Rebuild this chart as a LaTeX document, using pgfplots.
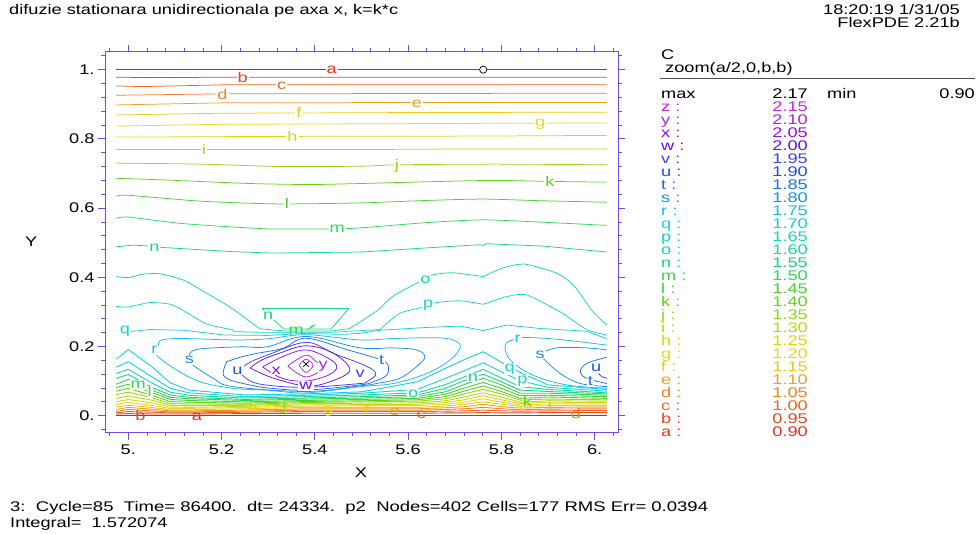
\documentclass[border=0pt]{standalone}
\usepackage{fontspec}
\setmainfont[FakeStretch=1.3]{Liberation Sans}
\usepackage{pgfplots}
\usepackage{pgfplotstable}
\pgfplotsset{compat=1.18}
\definecolor{lvla}{HTML}{E8321E}
\definecolor{lvlb}{HTML}{EA4420}
\definecolor{lvlc}{HTML}{EE6420}
\definecolor{lvld}{HTML}{F08020}
\definecolor{lvle}{HTML}{F0A020}
\definecolor{lvlf}{HTML}{EEC814}
\definecolor{lvlg}{HTML}{E8D818}
\definecolor{lvlh}{HTML}{D4D810}
\definecolor{lvli}{HTML}{B8D810}
\definecolor{lvlj}{HTML}{90D814}
\definecolor{lvlk}{HTML}{64D014}
\definecolor{lvll}{HTML}{44D430}
\definecolor{lvlm}{HTML}{30D850}
\definecolor{lvln}{HTML}{14D880}
\definecolor{lvlo}{HTML}{14D8A4}
\definecolor{lvlp}{HTML}{14D8C4}
\definecolor{lvlq}{HTML}{14D0E0}
\definecolor{lvlr}{HTML}{14BCF0}
\definecolor{lvls}{HTML}{1490F0}
\definecolor{lvlt}{HTML}{1870F0}
\definecolor{lvlu}{HTML}{2050E8}
\definecolor{lvlv}{HTML}{4040E8}
\definecolor{lvlw}{HTML}{6010E8}
\definecolor{lvlx}{HTML}{9010E8}
\definecolor{lvly}{HTML}{B020E8}
\definecolor{lvlz}{HTML}{D020E8}
\definecolor{frame}{HTML}{7048E8}
\definecolor{bound}{HTML}{8A4434}
\pgfplotstableread{
X q p o n m l k j i h g f e d c b
4.974 .163 .140 .122 .108 .091 .081 .071 .061 .050 .040 .032 .025 .018 .012 .008 .005
5.0 .191 .156 .134 .119 .105 .091 .079 .068 .057 .047 .038 .030 .024 .018 .012 .006
5.05 .142 .113 .095 .082 .074 .067 .059 .052 .045 .037 .030 .024 .019 .014 .010 .005
5.09 .095 .079 .068 .060 .053 .047 .041 .035 .030 .025 .021 .017 .014 .011 .008 .005
5.13 .074 .066 .059 .053 .049 .044 .039 .034 .029 .024 .021 .017 .014 .011 .008 .005
5.25 .060 .055 .051 .047 .044 .040 .036 .033 .030 .027 .024 .020 .016 .013 .010 .006
5.38 .063 .059 .055 .051 .048 .044 .041 .038 .035 .031 .028 .024 .020 .016 .012 .007
5.5 .069 .065 .060 .055 .051 .047 .043 .040 .036 .032 .029 .024 .020 .016 .012 .007
5.62 .098 .076 .066 .060 .055 .050 .046 .042 .037 .033 .029 .024 .020 .016 .012 .007
5.68 .137 .108 .090 .079 .069 .062 .055 .049 .043 .038 .033 .028 .023 .018 .013 .008
5.72 .162 .130 .112 .101 .090 .080 .071 .063 .054 .046 .039 .033 .026 .020 .014 .008
5.761 .185 .153 .134 .120 .108 .096 .086 .076 .066 .058 .049 .040 .033 .024 .016 .009
5.80 .154 .127 .109 .098 .089 .079 .070 .063 .054 .046 .039 .033 .026 .020 .014 .008
5.84 .125 .101 .084 .074 .065 .058 .050 .045 .039 .035 .031 .027 .022 .017 .013 .008
5.90 .089 .082 .076 .070 .065 .059 .054 .048 .043 .039 .034 .029 .024 .019 .014 .009
6.026 .076 .071 .066 .063 .059 .055 .050 .046 .042 .038 .034 .029 .025 .020 .015 .009
}\band
\newcommand{\T}[3]{\node[anchor=mid west,inner sep=0pt] at (#1,{530-#2}) {\fontsize{14}{14}\selectfont #3};}
\newcommand{\R}[3]{\node[anchor=mid east,inner sep=0pt] at (#1,{530-#2}) {\fontsize{14}{14}\selectfont #3};}
\newcommand{\Lf}[3]{\node[fill=white,inner sep=1pt,text=lvl#1,font=\fontsize{14}{14}\selectfont] at (axis cs:#2,#3) {#1};}
\newcommand{\Ln}[3]{\node[inner sep=0pt,text=lvl#1,font=\fontsize{14}{14}\selectfont] at (axis cs:#2,#3) {#1};}
\newcommand{\Row}[3]{\node[anchor=mid west,inner sep=0pt,text=lvl#1] at (661,{530-#2}) {\fontsize{14}{14}\selectfont #1 :};\node[anchor=mid east,inner sep=0pt,text=lvl#1] at (808,{530-#2}) {\fontsize{14}{14}\selectfont #3};}
\begin{document}
\begin{tikzpicture}[x=1pt,y=1pt]
\path[use as bounding box] (0,0) rectangle (977,533);
\begin{axis}[
  at={(105pt,100pt)},anchor=south west,
  width=513pt,height=381pt,scale only axis,
  xmin=4.95,xmax=6.05,ymin=-0.05,ymax=1.051,
  xtick={5,5.2,5.4,5.6,5.8,6},
  xticklabels={5.,5.2,5.4,5.6,5.8,6.},
  ytick={0,0.2,0.4,0.6,0.8,1},
  yticklabels={0.,0.2,0.4,0.6,0.8,1.},
  minor xtick={4.96,5.04,5.08,5.12,5.16,5.24,5.28,5.32,5.36,5.44,5.48,5.52,5.56,5.64,5.68,5.72,5.76,5.84,5.88,5.92,5.96,6.04},
  minor ytick={-0.04,0.04,0.08,0.12,0.16,0.24,0.28,0.32,0.36,0.44,0.48,0.52,0.56,0.64,0.68,0.72,0.76,0.84,0.88,0.92,0.96,1.04},
  tick align=outside,
  major tick length=7pt,minor tick length=3.5pt,
  tick style={color=frame,line width=0.8pt},
  axis line style={color=frame,line width=1pt},
  tick label style={font=\fontsize{14}{14}\selectfont,text=black},
  xticklabel style={yshift=-1pt},
  xlabel={X},ylabel={Y},
  xlabel style={at={(axis description cs:0.499,-0.105)},anchor=center,font=\fontsize{14}{14}\selectfont},
  ylabel style={at={(axis description cs:-0.144,0.501)},anchor=center,rotate=-90,font=\fontsize{14}{14}\selectfont},
  no markers,
  every axis plot/.append style={line width=0.75pt,line join=round},
  clip=false,
  curve/.style={smooth,tension=0.4},
  loop/.style={smooth,tension=0.6},
]
% lower contour band
\pgfplotsinvokeforeach{q,p,o,n,m,l,k,j,i,h,g,f,e,d,c,b}{
  \addplot[lvl#1,line width=0.9pt] table[x=X,y=#1]{\band};
}
% upper nearly flat contours
\addplot[lvlb] coordinates {(4.974,.978)(5.06,.977)(5.2,.978)(6.026,.978)};
\addplot[lvlc] coordinates {(4.974,.953)(5.03,.951)(5.2,.956)(6.026,.956)};
\addplot[lvld] coordinates {(4.974,.926)(5.2,.930)(5.6,.931)(6.026,.932)};
\addplot[lvle] coordinates {(4.974,.898)(5.2,.904)(5.6,.905)(6.026,.905)};
\addplot[lvlf] coordinates {(4.974,.869)(5.2,.874)(5.6,.876)(6.026,.877)};
\addplot[lvlg] coordinates {(4.974,.837)(5.2,.842)(5.6,.844)(6.026,.846)};
\addplot[lvlh] coordinates {(4.974,.805)(5.3,.807)(5.75,.808)(6.026,.810)};
\addplot[lvli] coordinates {(4.974,.769)(5.5,.769)(5.75,.771)(6.026,.771)};
\addplot[lvlj,curve] coordinates {(4.974,.730)(5.154,.727)(5.33,.720)(5.5,.721)(5.576,.725)(5.785,.727)(6.026,.725)};
\addplot[lvlk,curve] coordinates {(4.974,.686)(5.082,.681)(5.26,.671)(5.39,.668)(5.5,.671)(5.64,.676)(5.785,.680)(5.904,.677)(6.026,.675)};
\addplot[lvll,curve] coordinates {(4.974,.634)(5.0,.637)(5.154,.620)(5.318,.612)(5.5,.615)(5.64,.622)(5.761,.626)(5.89,.621)(6.026,.617)};
\addplot[lvlm,curve] coordinates {(4.974,.570)(5.0,.574)(5.118,.555)(5.297,.540)(5.44,.540)(5.5,.543)(5.64,.558)(5.761,.566)(5.89,.559)(6.026,.550)};
\addplot[lvln] coordinates {(4.974,.488)(5.01,.493)(5.037,.491)(5.075,.486)(5.225,.474)(5.31,.470)(5.5,.473)(5.64,.485)(5.753,.494)(5.761,.492)(5.768,.497)(5.89,.490)(6.026,.473)};
% contour "n" trapezoid and hook of "m"
\addplot[lvln] coordinates {(5.300,.289)(5.287,.310)(5.473,.310)(5.435,.2506)(5.334,.2506)(5.310,.279)};
\addplot[lvlm] coordinates {(5.383,.248)(5.392,.255)(5.400,.262)(5.390,.257)};
% o, p, q upper arcs
\addplot[lvlo,curve] coordinates {(4.974,.402)(5.0,.399)(5.032,.409)(5.068,.410)(5.118,.392)(5.164,.357)(5.218,.314)(5.282,.251)};
\addplot[lvlo] coordinates {(5.282,.251)(5.334,.245)(5.381,.245)(5.435,.245)(5.473,.251)};
\addplot[lvlo,curve] coordinates {(5.473,.251)(5.497,.271)(5.535,.305)(5.568,.346)(5.627,.389)(5.653,.407)(5.696,.413)(5.761,.402)};
\addplot[lvlo,curve] coordinates {(5.761,.402)(5.803,.427)(5.850,.438)(5.918,.412)(5.954,.378)(5.996,.301)(6.026,.262)};
\addplot[lvlp,curve] coordinates {(4.974,.316)(5.0,.314)(5.046,.327)(5.09,.322)(5.118,.304)(5.168,.265)(5.222,.249)};
\addplot[lvlp] coordinates {(5.222,.249)(5.229,.243)(5.282,.241)(5.381,.241)(5.435,.241)(5.54,.249)};
\addplot[lvlp,curve] coordinates {(5.54,.249)(5.582,.296)(5.636,.315)(5.661,.327)(5.711,.332)(5.761,.322)};
\addplot[lvlp,curve] coordinates {(5.761,.322)(5.811,.344)(5.854,.349)(5.926,.300)(5.983,.249)(6.026,.233)};
\addplot[lvlq] coordinates {(5.004,.243)(5.046,.249)(5.118,.247)(5.207,.233)(5.30,.232)(5.381,.238)(5.46,.235)(5.497,.238)(5.54,.247)(5.640,.255)(5.711,.259)(5.761,.246)(5.811,.262)(5.883,.252)(5.983,.244)(6.026,.222)};
% closed r, s, t around the peak
\addplot[lvlr,loop] coordinates {(5.057,.190)(5.064,.204)(5.072,.219)(5.118,.223)(5.225,.219)(5.297,.222)(5.381,.234)(5.497,.219)(5.568,.223)(5.668,.225)(5.704,.214)(5.711,.195)(5.690,.161)(5.640,.122)(5.568,.093)(5.497,.084)(5.381,.066)(5.297,.074)(5.225,.079)(5.154,.098)(5.104,.132)(5.064,.170)(5.057,.190)};
\addplot[lvls,loop] coordinates {(5.131,.161)(5.132,.180)(5.154,.193)(5.240,.199)(5.297,.199)(5.381,.229)(5.497,.196)(5.568,.196)(5.618,.190)(5.636,.170)(5.618,.142)(5.582,.108)(5.532,.093)(5.497,.086)(5.381,.070)(5.225,.084)(5.182,.108)(5.139,.146)(5.131,.161)};
\addplot[lvlt,loop] coordinates {(5.211,.156)(5.240,.169)(5.275,.180)(5.332,.195)(5.381,.224)(5.471,.190)(5.525,.169)(5.545,.160)(5.557,.146)(5.554,.117)(5.525,.098)(5.497,.089)(5.381,.074)(5.30,.080)(5.26,.089)(5.225,.100)(5.211,.108)(5.204,.117)(5.204,.130)(5.207,.144)(5.211,.156)};
\addplot[lvlv,loop] coordinates {(5.234,.13)(5.262,.155)(5.30,.176)(5.381,.212)(5.44,.180)(5.497,.151)(5.525,.132)(5.530,.117)(5.511,.098)(5.497,.093)(5.381,.082)(5.30,.088)(5.262,.100)(5.234,.13)};
\addplot[lvlw,loop] coordinates {(5.261,.138)(5.285,.160)(5.325,.181)(5.381,.202)(5.439,.181)(5.475,.132)(5.432,.098)(5.381,.086)(5.31,.109)(5.261,.138)};
\addplot[lvlx,loop] coordinates {(5.288,.141)(5.33,.170)(5.381,.190)(5.43,.165)(5.447,.141)(5.43,.118)(5.381,.100)(5.33,.108)(5.288,.141)};
\addplot[lvly,loop] coordinates {(5.342,.144)(5.381,.175)(5.404,.155)(5.422,.141)(5.381,.112)(5.342,.144)};
\addplot[lvlz,loop] coordinates {(5.366,.146)(5.381,.163)(5.396,.146)(5.381,.125)(5.366,.146)};
% contours right of the ridge
\addplot[lvlr,loop] coordinates {(6.026,.204)(5.926,.220)(5.851,.226)(5.826,.220)(5.808,.204)(5.819,.161)(5.868,.117)(5.940,.089)(6.026,.079)};
\addplot[lvls,loop] coordinates {(6.026,.190)(5.983,.196)(5.926,.197)(5.901,.190)(5.883,.177)(5.893,.161)(5.926,.122)(5.969,.093)(6.026,.084)};
\addplot[lvlt,loop] coordinates {(6.026,.169)(5.983,.151)(5.969,.127)(5.983,.108)(6.026,.093)};
\addplot[lvlu] coordinates {(6.008,.122)(6.015,.113)(6.026,.108)};
% boundary a
\addplot[bound,line width=1.5pt] coordinates {(4.974,1)(6.026,1)};
\addplot[bound,line width=1.5pt] coordinates {(4.974,0)(6.026,0)};
% max and min markers
\addplot[black,line width=0.7pt] coordinates {(5.375,.1415)(5.387,.1565)};
\addplot[black,line width=0.7pt] coordinates {(5.375,.1565)(5.387,.1415)};
\addplot[only marks,mark=o,mark size=3.6pt,mark options={draw=black,fill=white,line width=0.7pt}] coordinates {(5.761,1.0)};
% contour labels
\Lf{a}{5.436}{1.0}\Lf{b}{5.245}{.978}\Lf{c}{5.329}{.952}\Lf{d}{5.202}{.928}\Lf{e}{5.619}{.902}
\Lf{f}{5.366}{.875}\Lf{g}{5.883}{.841}\Lf{h}{5.352}{.806}\Lf{i}{5.162}{.769}\Lf{j}{5.576}{.721}
\Lf{k}{5.904}{.676}\Lf{l}{5.340}{.612}\Lf{m}{5.448}{.540}\Lf{n}{5.056}{.484}\Lf{n}{5.300}{.289}
\Lf{o}{5.637}{.394}\Lf{p}{5.643}{.318}\Lf{q}{4.993}{.243}\Lf{r}{5.056}{.190}\Lf{s}{5.131}{.161}
\Lf{u}{5.234}{.13}\Lf{x}{5.317}{.13}\Lf{y}{5.418}{.142}\Lf{w}{5.381}{.086}\Lf{v}{5.497}{.120}
\Lf{t}{5.543}{.161}\Ln{m}{5.36}{.246}\Lf{r}{5.835}{.223}\Lf{s}{5.883}{.177}\Lf{q}{5.818}{.135}
\Lf{p}{5.845}{.101}\Lf{n}{5.739}{.110}\Lf{o}{5.611}{.064}\Lf{t}{5.991}{.100}\Lf{u}{6.003}{.137}
\Lf{m}{5.021}{.089}\Lf{l}{5.046}{.069}\Ln{k}{5.856}{.042}
\Ln{a}{5.147}{-.003}\Ln{b}{5.026}{.002}\Ln{h}{5.267}{.023}\Ln{j}{5.335}{.026}\Ln{g}{5.429}{.014}
\Ln{f}{5.511}{.018}\Ln{e}{5.571}{.012}\Ln{c}{5.628}{.004}\Ln{d}{5.960}{.007}\Ln{i}{5.904}{.031}
\end{axis}
\T{9}{9}{difuzie stationara unidirectionala pe axa x, k=k*c}
\R{960}{9}{18:20:19 1/31/05}
\R{960}{22}{FlexPDE 2.21b}
\T{661}{54}{C}
\T{665}{67}{zoom(a/2,0,b,b)}
\draw[black!70,line width=0.8pt] (660,455) -- (975,455);
\T{661}{93}{max}\R{808}{93}{2.17}\T{827}{93}{min}\R{975}{93}{0.90}
\Row{z}{106}{2.15}\Row{y}{119}{2.10}\Row{x}{132}{2.05}\Row{w}{145}{2.00}\Row{v}{158}{1.95}
\Row{u}{171}{1.90}\Row{t}{184}{1.85}\Row{s}{197}{1.80}\Row{r}{210}{1.75}\Row{q}{223}{1.70}
\Row{p}{236}{1.65}\Row{o}{249}{1.60}\Row{n}{262}{1.55}\Row{m}{275}{1.50}\Row{l}{288}{1.45}
\Row{k}{301}{1.40}\Row{j}{314}{1.35}\Row{i}{327}{1.30}\Row{h}{340}{1.25}\Row{g}{353}{1.20}
\Row{f}{366}{1.15}\Row{e}{379}{1.10}\Row{d}{392}{1.05}\Row{c}{405}{1.00}\Row{b}{418}{0.95}
\Row{a}{431}{0.90}
\T{10}{506}{\scalebox{1.017}[1]{3:\ \ Cycle=85\ \ Time= 86400.\ \ dt= 24334.\ \ p2\ \ Nodes=402 Cells=177 RMS Err= 0.0394}}
\T{10}{522}{Integral=\ \ 1.572074}
\end{tikzpicture}
\end{document}
